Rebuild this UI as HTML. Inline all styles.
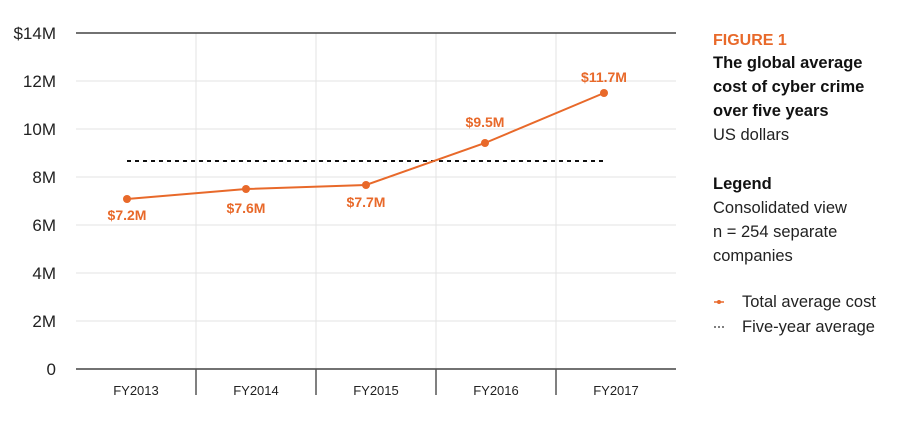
<!DOCTYPE html><html><head><style>body{margin:0;background:#fff}</style></head><body>
<svg width="919" height="420" xmlns="http://www.w3.org/2000/svg" font-family="Liberation Sans, sans-serif">
<g stroke="#e3e3e3" stroke-width="1">
<line x1="76" y1="81" x2="676" y2="81"/><line x1="76" y1="129" x2="676" y2="129"/><line x1="76" y1="177" x2="676" y2="177"/><line x1="76" y1="225" x2="676" y2="225"/><line x1="76" y1="273" x2="676" y2="273"/><line x1="76" y1="321" x2="676" y2="321"/>
<line x1="196" y1="33" x2="196" y2="369"/><line x1="316" y1="33" x2="316" y2="369"/><line x1="436" y1="33" x2="436" y2="369"/><line x1="556" y1="33" x2="556" y2="369"/>
</g>
<line x1="76" y1="33" x2="676" y2="33" stroke="#444" stroke-width="1.5"/>
<line x1="76" y1="369" x2="676" y2="369" stroke="#444" stroke-width="1.5"/>
<g stroke="#555" stroke-width="1.5"><line x1="196" y1="369" x2="196" y2="395"/><line x1="316" y1="369" x2="316" y2="395"/><line x1="436" y1="369" x2="436" y2="395"/><line x1="556" y1="369" x2="556" y2="395"/></g>
<g font-size="17" fill="#222" text-anchor="end">
<text x="56" y="39">$14M</text><text x="56" y="87">12M</text><text x="56" y="135">10M</text><text x="56" y="183">8M</text><text x="56" y="231">6M</text><text x="56" y="279">4M</text><text x="56" y="327">2M</text><text x="56" y="375">0</text></g>
<g font-size="13" fill="#222" text-anchor="middle"><text x="136" y="395">FY2013</text><text x="256" y="395">FY2014</text><text x="376" y="395">FY2015</text><text x="496" y="395">FY2016</text><text x="616" y="395">FY2017</text></g>
<line x1="127" y1="161" x2="604" y2="161" stroke="#111" stroke-width="2" stroke-dasharray="4,4"/>
<polyline points="127,199 246,189 366,185 485,143 604,93" fill="none" stroke="#e8692a" stroke-width="2"/>
<g fill="#e8692a"><circle cx="127" cy="199" r="4"/><circle cx="246" cy="189" r="4"/><circle cx="366" cy="185" r="4"/><circle cx="485" cy="143" r="4"/><circle cx="604" cy="93" r="4"/></g>
<g font-size="14" font-weight="bold" fill="#e8692a" text-anchor="middle"><text x="127" y="220">$7.2M</text><text x="246" y="213">$7.6M</text><text x="366" y="207">$7.7M</text><text x="485" y="127">$9.5M</text><text x="604" y="82">$11.7M</text></g>
<text x="713" y="45" font-size="16" font-weight="bold" fill="#e8692a">FIGURE 1</text>
<g font-size="16.5" font-weight="bold" fill="#111"><text x="713" y="68">The global average</text><text x="713" y="92">cost of cyber crime</text><text x="713" y="116">over five years</text><text x="713" y="189">Legend</text></g>
<g font-size="16.5" fill="#222"><text x="713" y="140">US dollars</text><text x="713" y="213">Consolidated view</text><text x="713" y="237">n = 254 separate</text><text x="713" y="261">companies</text><text x="742" y="307">Total average cost</text><text x="742" y="332">Five-year average</text></g>
<line x1="714" y1="302" x2="724" y2="302" stroke="#e8692a" stroke-width="1.5"/><circle cx="719" cy="302" r="2" fill="#e8692a"/>
<line x1="714" y1="327" x2="724" y2="327" stroke="#555" stroke-width="1.5" stroke-dasharray="2,2"/>
</svg></body></html>
